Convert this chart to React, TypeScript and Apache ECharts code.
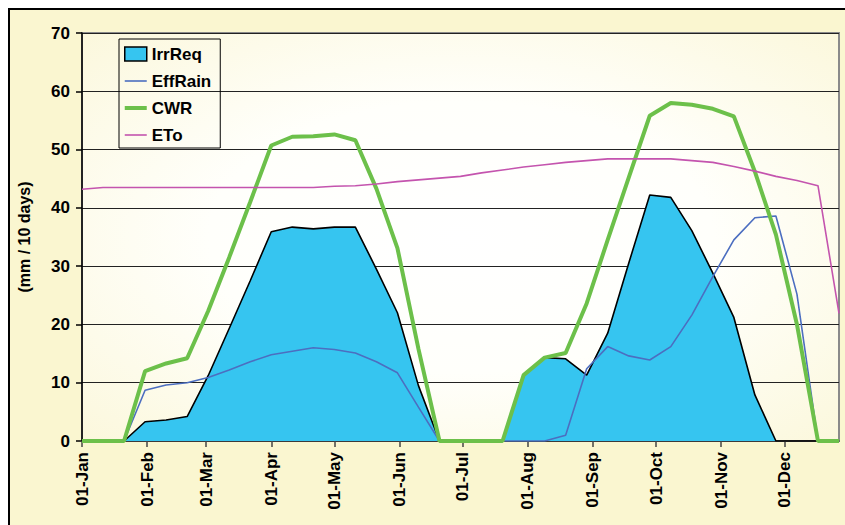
import React, { useEffect, useRef } from "react";
import * as echarts from "echarts";

// Day offsets (from 01-Jan) of each 10-day period
const days = [0, 10, 20, 30, 40, 50, 60, 70, 80, 90, 100, 110, 120, 130, 140, 150, 160, 170, 180, 190, 200, 210, 220, 230, 240, 250, 260, 270, 280, 290, 300, 310, 320, 330, 340, 350, 360];

const irrReq = [0, 0, 0, 3.3, 3.6, 4.2, 11.2, 19.3, 27.5, 35.9, 36.7, 36.4, 36.7, 36.7, 29.5, 22.0, 9.5, 0, 0, 0, 0, 11.3, 14.3, 14.1, 11.3, 18.5, 30.5, 42.2, 41.8, 36.1, 28.8, 21.2, 7.9, 0, 0, 0];
const effRain = [0, 0, 0, 8.7, 9.6, 10.0, 10.9, 12.2, 13.6, 14.8, 15.4, 16.0, 15.7, 15.1, 13.6, 11.7, 5.8, 0, 0, 0, 0, 0, 0, 1.0, 12.4, 16.2, 14.6, 13.9, 16.2, 21.6, 28.2, 34.5, 38.3, 38.6, 25.2, 0, 0];
const cwr = [0, 0, 0, 12.0, 13.3, 14.2, 22.3, 31.5, 41.0, 50.7, 52.2, 52.3, 52.6, 51.6, 43.3, 33.1, 15.8, 0, 0, 0, 0, 11.3, 14.3, 15.1, 23.6, 34.5, 45.2, 55.8, 58.0, 57.7, 57.0, 55.7, 46.2, 35.4, 20.0, 0, 0];
const eto = [43.2, 43.5, 43.5, 43.5, 43.5, 43.5, 43.5, 43.5, 43.5, 43.5, 43.5, 43.5, 43.7, 43.8, 44.1, 44.5, 44.8, 45.1, 45.4, 46.0, 46.5, 47.0, 47.4, 47.8, 48.1, 48.4, 48.4, 48.4, 48.4, 48.1, 47.8, 47.1, 46.3, 45.4, 44.7, 43.8, 21.9];

// Month starts (day offsets) and their labels
const monthDays = [0, 31, 59, 90, 120, 151, 181, 212, 243, 273, 304, 334];
const monthLabels = ["01-Jan", "01-Feb", "01-Mar", "01-Apr", "01-May", "01-Jun", "01-Jul", "01-Aug", "01-Sep", "01-Oct", "01-Nov", "01-Dec"];

const yTicks = [0, 10, 20, 30, 40, 50, 60, 70];

const pairs = (vals: number[]) => vals.map((v, i) => [days[i], v]);

const FONT = "'Liberation Sans', Arial, sans-serif";
const THIN_ICON = "path://M0,0 L22,0 L22,1.6 L0,1.6 Z";
const THICK_ICON = "path://M0,0 L22,0 L22,4 L0,4 Z";

export default function App() {
  const ref = useRef<HTMLDivElement>(null);

  useEffect(() => {
    if (!ref.current) return;
    const chart = echarts.init(ref.current, null, { renderer: "svg" });
    chart.setOption({
      animation: false,
      backgroundColor: "transparent",
      textStyle: { fontFamily: FONT },
      grid: {
        left: 82,
        right: 6,
        top: 33,
        bottom: 84,
        show: true,
        borderColor: "#8a8a8a",
        borderWidth: 2,
        backgroundColor: new echarts.graphic.RadialGradient(0.5, 0.5, 0.95, [
          { offset: 0, color: "#ffffff" },
          { offset: 0.35, color: "#fffffb" },
          { offset: 1, color: "#f9f3c8" },
        ]),
        outerBoundsMode: "none",
      },
      legend: {
        orient: "vertical",
        left: 119,
        top: 39,
        padding: [5, 9, 3, 5],
        itemWidth: 22,
        itemHeight: 14,
        itemGap: 7,
        symbolKeepAspect: true,
        borderColor: "#000",
        borderWidth: 1,
        backgroundColor: "transparent",
        textStyle: { fontFamily: FONT, fontWeight: "bold", fontSize: 17, color: "#000", lineHeight: 20 },
        data: [
          { name: "IrrReq", icon: "rect", itemStyle: { color: "#36C5F0", borderColor: "#000", borderWidth: 1.5 } },
          { name: "EffRain", icon: THIN_ICON, itemStyle: { color: "#4C6EC0", borderWidth: 0 } },
          { name: "CWR", icon: THICK_ICON, itemStyle: { color: "#6CC04A", borderWidth: 0 } },
          { name: "ETo", icon: THIN_ICON, itemStyle: { color: "#C454AE", borderWidth: 0 } },
        ],
      },
      xAxis: {
        type: "value",
        min: 0,
        max: 360,
        splitLine: { show: false },
        axisLine: { show: true, lineStyle: { color: "#444", width: 1.5 } },
        axisTick: { show: true, customValues: monthDays, length: 6, lineStyle: { color: "#444", width: 1.5 } },
        axisLabel: {
          customValues: monthDays,
          rotate: 90,
          margin: 11,
          fontFamily: FONT,
          fontWeight: "bold",
          fontSize: 17,
          color: "#000",
          formatter: (v: number) => monthLabels[monthDays.indexOf(v)] ?? "",
        },
      },
      yAxis: {
        type: "value",
        min: 0,
        max: 70,
        interval: 10,
        name: "(mm / 10 days)",
        nameLocation: "middle",
        nameGap: 50,
        nameRotate: 90,
        nameTextStyle: { fontFamily: FONT, fontWeight: "bold", fontSize: 16, color: "#000" },
        axisLine: { show: true, lineStyle: { color: "#000", width: 1.5 } },
        axisTick: { show: true, length: 6, lineStyle: { color: "#000", width: 1.5 } },
        axisLabel: {
          margin: 12,
          fontFamily: FONT,
          fontWeight: "bold",
          fontSize: 17,
          color: "#000",
          formatter: (v: number) => (yTicks.includes(v) ? String(v) : ""),
        },
        splitLine: { show: true, lineStyle: { color: "#222", width: 1 } },
      },
      series: [
        {
          name: "IrrReq",
          type: "line",
          data: pairs(irrReq),
          symbol: "none",
          color: "#36C5F0",
          lineStyle: { color: "#000", width: 1.6 },
          areaStyle: { color: "#36C5F0", opacity: 1 },
          z: 2,
        },
        {
          name: "EffRain",
          type: "line",
          data: pairs(effRain),
          symbol: "none",
          color: "#4C6EC0",
          lineStyle: { color: "#4C6EC0", width: 1.6 },
          z: 3,
        },
        {
          name: "CWR",
          type: "line",
          data: pairs(cwr),
          symbol: "none",
          color: "#6CC04A",
          lineStyle: { color: "#6CC04A", width: 4 },
          z: 4,
        },
        {
          name: "ETo",
          type: "line",
          data: pairs(eto),
          symbol: "none",
          color: "#C454AE",
          lineStyle: { color: "#C454AE", width: 1.6 },
          z: 5,
        },
      ],
    });
    return () => chart.dispose();
  }, []);

  return (
    <div style={{ position: "fixed", left: 0, top: 0, width: 845, height: 525, background: "#fff", overflow: "hidden" }}>
      <div
        style={{
          position: "absolute",
          left: 8,
          top: 8,
          width: 900,
          height: 600,
          border: "2px solid #000",
          background: "#FAF6D0",
        }}
      />
      <div ref={ref} style={{ position: "absolute", left: 0, top: 0, width: 845, height: 525 }} />
    </div>
  );
}
